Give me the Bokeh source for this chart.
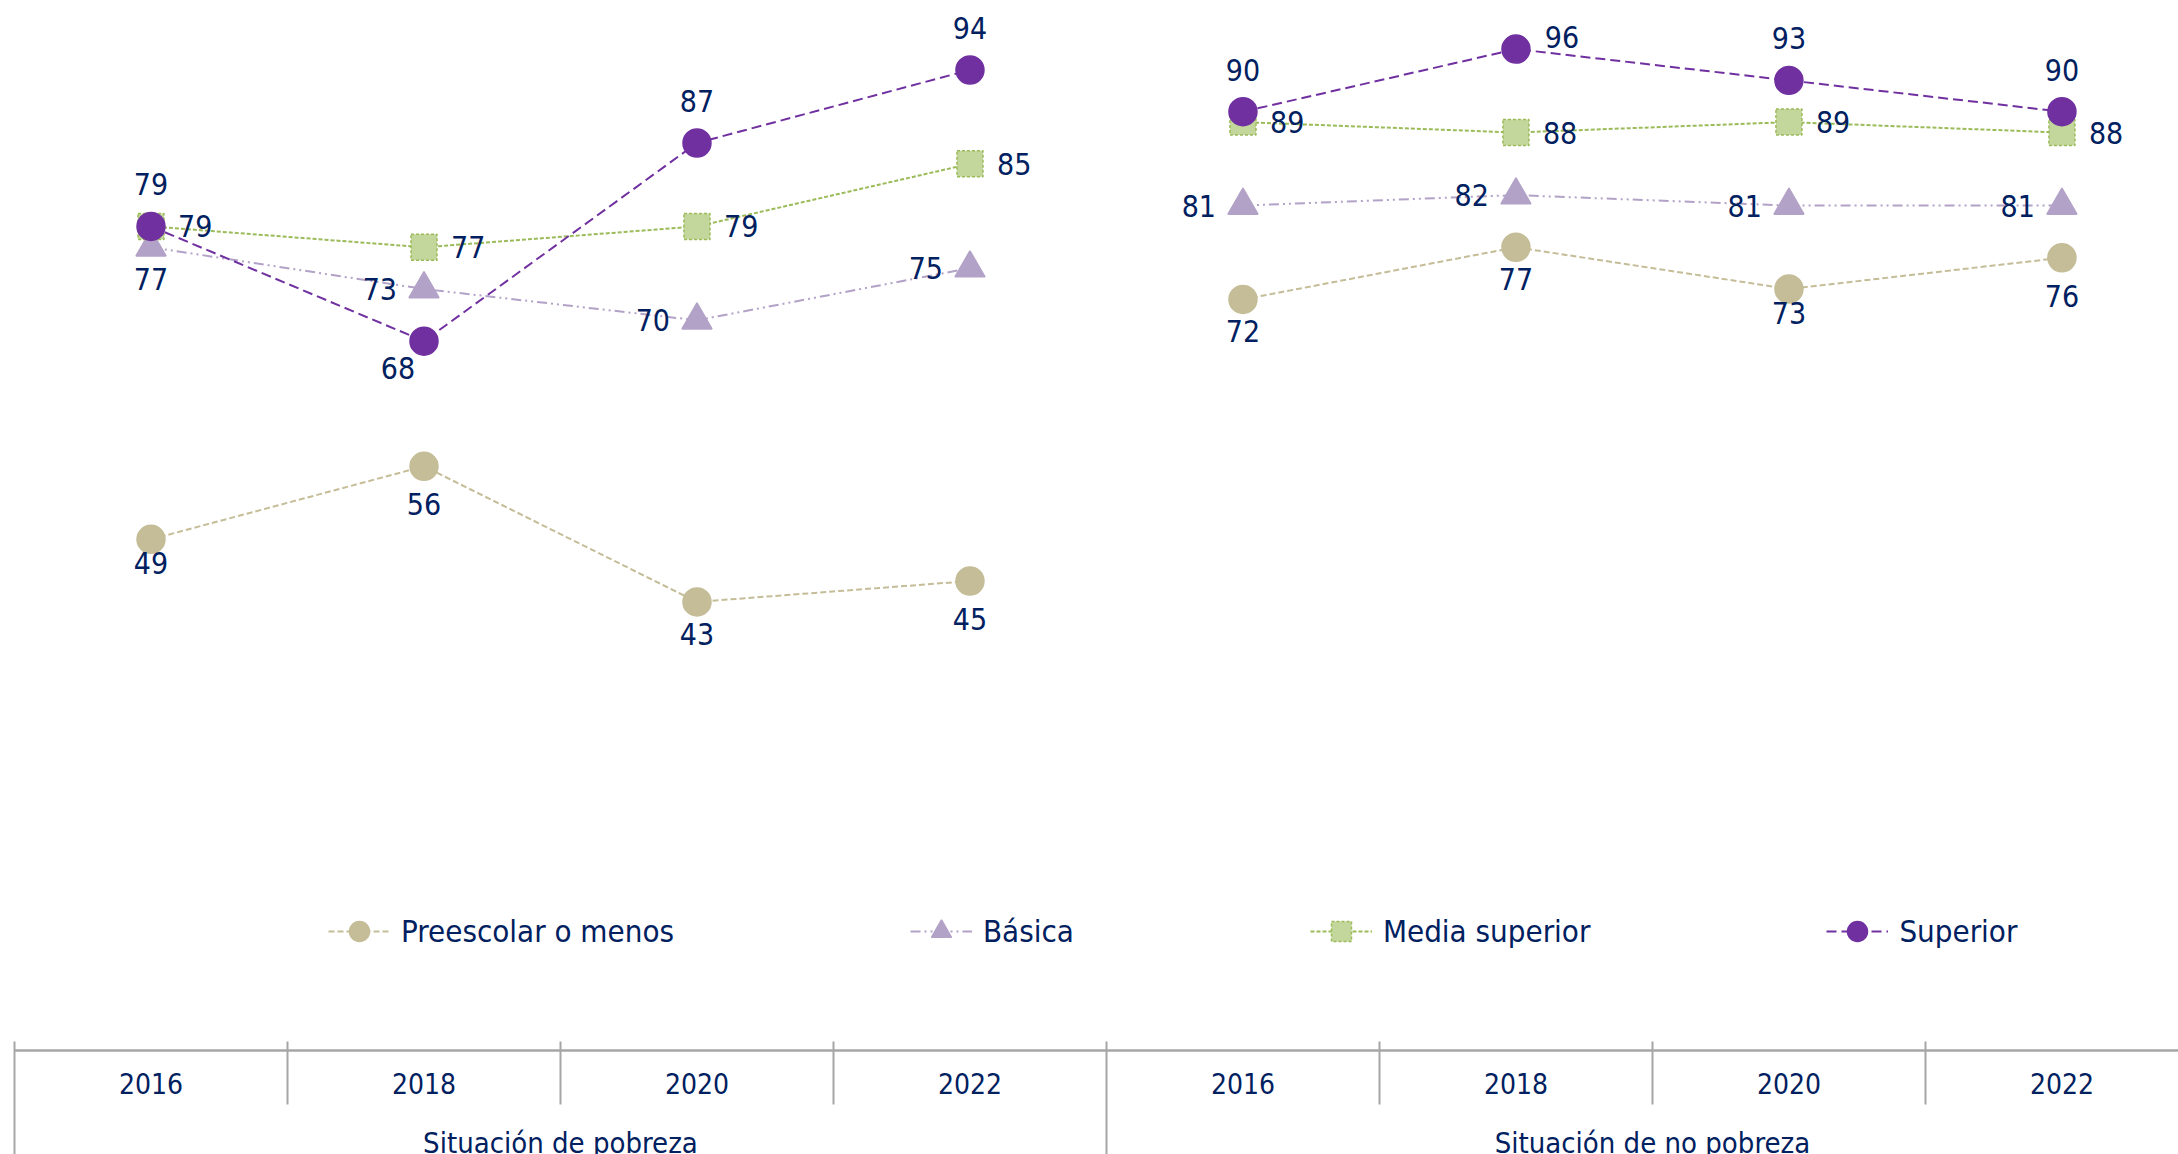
import math
from bokeh.plotting import figure
from bokeh.models import Range1d, LinearAxis, FixedTicker, Legend, LegendItem, ColumnDataSource
from bokeh.core.properties import value, field
from bokeh.embed import file_html
from bokeh.resources import INLINE

# ---------------- data ----------------
groups = ["Situación de pobreza", "Situación de no pobreza"]
years = ["2016", "2018", "2020", "2022"]
series_names = ["Preescolar o menos", "Básica", "Media superior", "Superior"]

preescolar = [49, 56, 43, 45, 72, 77, 73, 76]
basica = [77, 73, 70, 75, 81, 82, 81, 81]
media_superior = [79, 77, 79, 85, 89, 88, 89, 88]
superior = [79, 68, 87, 94, 90, 96, 93, 90]

# label placement for each point (style, not data)
pos_preescolar = ["below_near", "below_far", "below", "below_far", "below", "below", "below_near", "below_far"]
pos_basica = ["below", "left", "left", "left", "left", "left", "left", "left"]
pos_media = ["right"] * 8
pos_superior = ["above", "below_left", "above", "above", "above", "above_right", "above", "above"]

# ---------------- styles ----------------
FONT = "DejaVu Sans Condensed"
TXT = "#002060"
AX = "#A6A6A6"

styles = [
    dict(marker="circle", fill="#C4BD97", line="#C4BD97", dash="6 3", size=28, lc="#C4BD97"),
    dict(marker="triangle", fill="#B3A2C7", line="#B3A2C7", dash="10 4 2 4 2 4", size=30, lc="#B3A2C7"),
    dict(marker="square", fill="#C3D69B", line="#9BBB59", dash="4 2", size=26, lc="#9BBB59"),
    dict(marker="circle", fill="#7030A0", line="#7030A0", dash="10 5", size=28, lc="#7030A0"),
]
series_vals = [preescolar, basica, media_superior, superior]
series_pos = [pos_preescolar, pos_basica, pos_media, pos_superior]

OFFS = {
    "above": (0, -42, "center"),
    "below": (0, 32, "center"),
    "below_near": (0, 24, "center"),
    "below_far": (0, 38, "center"),
    "left": (-27, 0, "right"),
    "right": (27, 0, "left"),
    "below_left": (-26, 27, "center"),
    "above_right": (46, -12, "center"),
}

# x positions from category index
n_g, n_y = len(groups), len(years)
xs = [g * n_y + j + 0.5 for g in range(n_g) for j in range(n_y)]

p = figure(width=2178, height=1154,
           x_range=Range1d(-0.0513, 7.927), y_range=Range1d(-9.98, 100.66),
           x_axis_type=None, y_axis_type=None,
           toolbar_location=None, output_backend="svg",
           min_border=0, outline_line_color=None)

legend_items = []
for name, vals, st in zip(series_names, series_vals, styles):
    lx, ly = [], []
    for g in range(n_g):
        if g > 0:
            lx.append(math.nan)
            ly.append(math.nan)
        for j in range(n_y):
            lx.append(xs[g * n_y + j])
            ly.append(vals[g * n_y + j])
    lr = p.line(lx, ly, line_color=st["lc"], line_width=2, line_dash=st["dash"])
    sr = p.scatter(xs, vals, marker=st["marker"], size=st["size"],
                   fill_color=st["fill"], line_color=st["line"], line_width=1.5,
                   line_dash="3 2" if st["marker"] == "square" else "solid")
    legend_items.append(LegendItem(label=name, renderers=[lr, sr]))

# data labels
lab = dict(x=[], y=[], t=[], xo=[], yo=[], align=[])
for vals, poss in zip(series_vals, series_pos):
    for xv, v, ps in zip(xs, vals, poss):
        xo, yo, al = OFFS[ps]
        lab["x"].append(xv)
        lab["y"].append(v)
        lab["t"].append(str(v))
        lab["xo"].append(xo)
        lab["yo"].append(yo)
        lab["align"].append(al)
p.text(x="x", y="y", text="t", x_offset="xo", y_offset="yo", text_align=field("align"),
       text_baseline="middle", text_font=value(FONT), text_font_size="30px", text_color=TXT,
       source=ColumnDataSource(lab))

# ---------------- axes (all fixed at y = 0) ----------------
def base_axis(ticks):
    ax = LinearAxis(fixed_location=0, ticker=FixedTicker(ticks=ticks), bounds=(0, n_g * n_y))
    ax.minor_tick_line_color = None
    ax.axis_line_color = None
    ax.major_tick_line_color = None
    ax.major_tick_in = 0
    ax.major_tick_out = 0
    return ax

# main axis line
ax_line = base_axis([])
ax_line.axis_line_color = AX
ax_line.axis_line_width = 2.5
p.add_layout(ax_line, "below")

# short separators between years
short_ticks = [g * n_y + j for g in range(n_g) for j in range(1, n_y)]
ax_sep = base_axis(short_ticks)
ax_sep.major_tick_line_color = AX
ax_sep.major_tick_line_width = 2
ax_sep.major_tick_in = 9
ax_sep.major_tick_out = 54
ax_sep.major_label_overrides = {float(t): "" for t in short_ticks}
p.add_layout(ax_sep, "below")

# long separators between groups
long_ticks = [g * n_y for g in range(n_g + 1)]
ax_gsep = base_axis(long_ticks)
ax_gsep.major_tick_line_color = AX
ax_gsep.major_tick_line_width = 2
ax_gsep.major_tick_in = 9
ax_gsep.major_tick_out = 130
ax_gsep.major_label_overrides = {float(t): "" for t in long_ticks}
p.add_layout(ax_gsep, "below")

# year labels
ax_year = base_axis(xs)
ax_year.major_label_overrides = {x: years[i % n_y] for i, x in enumerate(xs)}
ax_year.major_label_text_font = FONT
ax_year.major_label_text_font_size = "28px"
ax_year.major_label_text_color = TXT
ax_year.major_label_standoff = 23
p.add_layout(ax_year, "below")

# group labels
g_ticks = [g * n_y + n_y / 2 for g in range(n_g)]
ax_grp = base_axis(g_ticks)
ax_grp.major_label_overrides = {t: groups[i] for i, t in enumerate(g_ticks)}
ax_grp.major_label_text_font = FONT
ax_grp.major_label_text_font_size = "29px"
ax_grp.major_label_text_color = TXT
ax_grp.major_label_standoff = 76
p.add_layout(ax_grp, "below")

legend = Legend(items=legend_items, location=(328, 198), orientation="horizontal",
                spacing=236, glyph_width=62, glyph_height=50, label_standoff=11,
                label_text_font=FONT, label_text_font_size="31px", label_text_color=TXT,
                label_height=50, padding=0, margin=0,
                border_line_color=None, background_fill_alpha=0)
p.add_layout(legend)

open("out.html", "w").write(file_html(p, INLINE))
